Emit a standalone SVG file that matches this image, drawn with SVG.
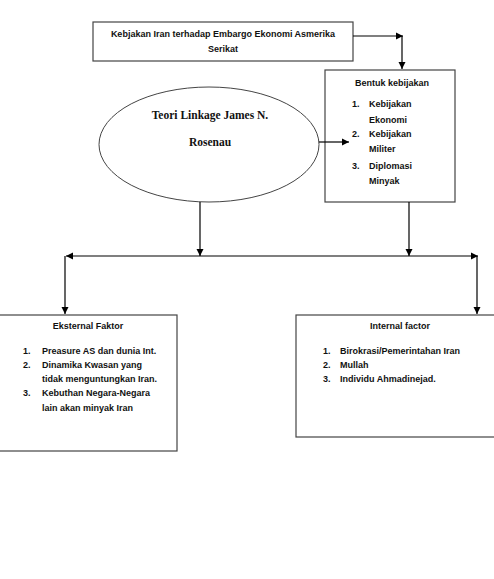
<svg xmlns="http://www.w3.org/2000/svg" width="494" height="579" viewBox="0 0 494 579">
<defs>
<marker id="ah" markerWidth="8" markerHeight="8" refX="7" refY="4" orient="auto" markerUnits="userSpaceOnUse">
<path d="M0,0.5 L7,4 L0,7.5 Z" fill="#000"/>
</marker>
<style>
.box{fill:#fff;stroke:#444;stroke-width:1.2}
.t{font-family:"Liberation Sans",Arial,sans-serif;font-weight:bold;font-size:9px;fill:#111}
.s{font-family:"Liberation Serif","Times New Roman",serif;font-weight:bold;font-size:11.5px;fill:#111}
.c{text-anchor:middle}
.ln{stroke:#000;stroke-width:1.2;fill:none}
</style>
</defs>
<rect width="494" height="579" fill="#fff"/>
<g id="node-top">
<rect class="box" x="93" y="22" width="260" height="39"/>
<text class="t c" x="223" y="37">Kebjakan Iran terhadap Embargo Ekonomi Asmerika</text>
<text class="t c" x="223" y="52">Serikat</text>
</g>
<g id="node-bentuk">
<rect class="box" x="325" y="70" width="130" height="132"/>
<text class="t c" x="392" y="86">Bentuk kebijakan</text>
<text class="t" x="352" y="107">1.</text><text class="t" x="369" y="107">Kebijakan</text>
<text class="t" x="369" y="123">Ekonomi</text>
<text class="t" x="352" y="137">2.</text><text class="t" x="369" y="137">Kebijakan</text>
<text class="t" x="369" y="152">Militer</text>
<text class="t" x="352" y="169">3.</text><text class="t" x="369" y="169">Diplomasi</text>
<text class="t" x="369" y="184">Minyak</text>
</g>
<g id="node-teori">
<ellipse cx="209" cy="144.5" rx="110" ry="57.5" fill="#fff" stroke="#444" stroke-width="1"/>
<text class="s c" x="210" y="119">Teori Linkage James N.</text>
<text class="s c" x="210" y="146">Rosenau</text>
</g>
<g id="node-eksternal">
<rect class="box" x="-2" y="315" width="179" height="136"/>
<text class="t c" x="88" y="329">Eksternal Faktor</text>
<text class="t" x="23" y="354">1.</text><text class="t" x="42" y="354">Preasure AS dan dunia Int.</text>
<text class="t" x="23" y="368">2.</text><text class="t" x="42" y="368">Dinamika Kwasan yang</text>
<text class="t" x="42" y="382">tidak menguntungkan Iran.</text>
<text class="t" x="23" y="396">3.</text><text class="t" x="42" y="396">Kebuthan Negara-Negara</text>
<text class="t" x="42" y="411">lain akan minyak Iran</text>
</g>
<g id="node-internal">
<rect class="box" x="296" y="315" width="202" height="122"/>
<text class="t c" x="400" y="329">Internal factor</text>
<text class="t" x="323" y="354">1.</text><text class="t" x="340" y="354">Birokrasi/Pemerintahan Iran</text>
<text class="t" x="323" y="368">2.</text><text class="t" x="340" y="368">Mullah</text>
<text class="t" x="323" y="382">3.</text><text class="t" x="340" y="382">Individu Ahmadinejad.</text>
</g>
<g id="connectors">
<path class="ln" d="M353,36 H403" marker-end="url(#ah)"/>
<path class="ln" d="M402,36 V69" marker-end="url(#ah)"/>
<path class="ln" d="M319,142 H349" marker-end="url(#ah)"/>
<path class="ln" d="M200,202 V256" marker-end="url(#ah)"/>
<path class="ln" d="M409,202 V256" marker-end="url(#ah)"/>
<path class="ln" d="M271,256 H66" marker-end="url(#ah)"/>
<path class="ln" d="M271,256 H478" marker-end="url(#ah)"/>
<path class="ln" d="M65,256 V314" marker-end="url(#ah)"/>
<path class="ln" d="M477,256 V314" marker-end="url(#ah)"/>
</g>
</svg>
